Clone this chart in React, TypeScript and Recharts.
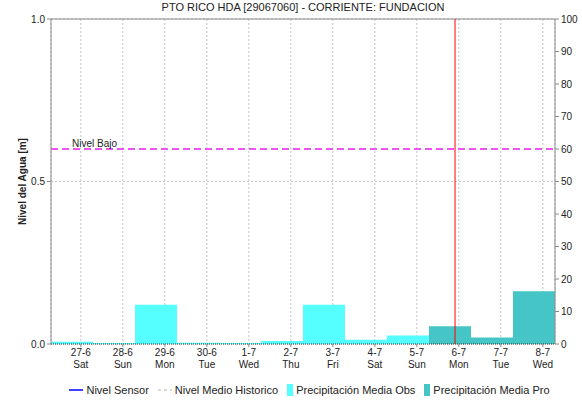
import {
  ComposedChart,
  Bar,
  XAxis,
  YAxis,
  CartesianGrid,
  ReferenceLine,
} from "recharts";

const TITLE = "PTO RICO HDA [29067060] - CORRIENTE: FUNDACION";

const dayLabels = ["27-6", "28-6", "29-6", "30-6", "1-7", "2-7", "3-7", "4-7", "5-7", "6-7", "7-7", "8-7"];
const weekdayLabels = ["Sat", "Sun", "Mon", "Tue", "Wed", "Thu", "Fri", "Sat", "Sun", "Mon", "Tue", "Wed"];

// precipitation (mm), observed then forecast
const precipObs = [0.7, 0.3, 12.1, 0.4, 0.3, 0.9, 12.1, 1.3, 2.6, null, null, null];
const precipPro = [null, null, null, null, null, null, null, null, null, 5.5, 2.0, 16.2];

const nivelTicks = [0, 0.5, 1];
const precipTicks = [0, 10, 20, 30, 40, 50, 60, 70, 80, 90, 100];

const NIVEL_BAJO = 0.6;
const TICK_HOUR = 0.71; // date ticks sit late in each day
const NOW = 9.62; // current time, in days from 27-6

const COLORS = {
  obs: "#55FFFF",
  pro: "#45C5C5",
  bajo: "#EE55EE",
  now: "#FF0000",
  grid: "#c4c4c4",
  axis: "#8a8a8a",
  text: "#222",
  sensor: "#0000FF",
  historico: "#cccccc",
};

const FONT = "'Liberation Sans', Arial, sans-serif";

const data = dayLabels.map((day, i) => ({
  day,
  t: i + TICK_HOUR,
  obs: precipObs[i],
  pro: precipPro[i],
}));

const timeTicks = data.map((d) => d.t);

function DayTick(props: any) {
  const { x, y, index } = props;
  return (
    <g transform={`translate(${x},${y})`}>
      <text textAnchor="middle" fontSize={10} fill={COLORS.text} fontFamily={FONT}>
        <tspan x={0} dy={7}>{dayLabels[index]}</tspan>
        <tspan x={0} dy={12}>{weekdayLabels[index]}</tspan>
      </text>
    </g>
  );
}

function BajoLabel(props: any) {
  const { viewBox } = props;
  return (
    <text x={viewBox.x + 21} y={viewBox.y - 2} fontSize={10} fill={COLORS.text} fontFamily={FONT}>
      Nivel Bajo
    </text>
  );
}

function LegendRow() {
  const item = { display: "flex", alignItems: "center", marginRight: 8 } as const;
  return (
    <div
      style={{
        position: "absolute",
        top: 384,
        left: 0,
        width: 582,
        display: "flex",
        justifyContent: "center",
        paddingLeft: 44,
        boxSizing: "border-box",
        fontFamily: FONT,
        fontSize: 11,
        color: COLORS.text,
      }}
    >
      <div style={item}>
        <svg width={16} height={12}><line x1={1} y1={6} x2={15} y2={6} stroke={COLORS.sensor} strokeWidth={1.5} /></svg>
        <span style={{ marginLeft: 2 }}>Nivel Sensor</span>
      </div>
      <div style={item}>
        <svg width={16} height={12}><line x1={1} y1={6} x2={15} y2={6} stroke={COLORS.historico} strokeWidth={1.5} strokeDasharray="3 3" /></svg>
        <span style={{ marginLeft: 2 }}>Nivel Medio Historico</span>
      </div>
      <div style={item}>
        <svg width={8} height={12}><rect x={1} y={0} width={6} height={12} fill={COLORS.obs} /></svg>
        <span style={{ marginLeft: 2 }}>Precipitación Media Obs</span>
      </div>
      <div style={item}>
        <svg width={8} height={12}><rect x={1} y={0} width={6} height={12} fill={COLORS.pro} /></svg>
        <span style={{ marginLeft: 2 }}>Precipitación Media Pro</span>
      </div>
    </div>
  );
}

export default function App() {
  return (
    <div style={{ position: "absolute", left: 0, top: 0, width: 582, height: 401, background: "#fff" }}>
      <div
        style={{
          position: "absolute",
          top: 1,
          left: 51,
          width: 504,
          textAlign: "center",
          fontFamily: FONT,
          fontSize: 11,
          color: COLORS.text,
        }}
      >
        {TITLE}
      </div>
      <ComposedChart
        width={582}
        height={401}
        data={data}
        margin={{ top: 19, right: 0, left: 11, bottom: 27 }}
        barCategoryGap={0}
        barGap={0}
      >
        <XAxis xAxisId="bars" dataKey="day" type="category" hide height={0} />
        <XAxis
          xAxisId="time"
          dataKey="t"
          type="number"
          domain={[0, dayLabels.length]}
          ticks={timeTicks}
          interval={0}
          height={30}
          tick={<DayTick />}
          tickLine={{ stroke: COLORS.axis }}
          tickSize={3}
          axisLine={{ stroke: "#333", strokeDasharray: "1 1" }}
          allowDataOverflow
        />
        <YAxis
          yAxisId="nivel"
          type="number"
          domain={[0, 1]}
          ticks={nivelTicks}
          allowDataOverflow
          width={40}
          tickFormatter={(v: number) => v.toFixed(1)}
          tick={{ fontSize: 10, fill: COLORS.text, fontFamily: FONT }}
          tickSize={4}
          tickMargin={2}
          axisLine={{ stroke: COLORS.axis }}
          tickLine={{ stroke: COLORS.axis }}
          label={{
            value: "Nivel del Agua [m]",
            angle: -90,
            position: "insideLeft",
            offset: 11,
            style: { textAnchor: "middle", fontSize: 10, fontWeight: "bold", fill: COLORS.text, fontFamily: FONT },
          }}
        />
        <YAxis
          yAxisId="precip"
          orientation="right"
          domain={[0, 100]}
          ticks={precipTicks}
          allowDataOverflow
          width={27}
          tick={{ fontSize: 10, fill: COLORS.text, fontFamily: FONT }}
          tickSize={4}
          tickMargin={2}
          axisLine={{ stroke: COLORS.axis }}
          tickLine={{ stroke: COLORS.axis }}
        />
        <CartesianGrid
          xAxisId="time"
          yAxisId="nivel"
          stroke={COLORS.grid}
          strokeDasharray="2 2"
        />
        <Bar
          xAxisId="bars"
          yAxisId="precip"
          dataKey="obs"
          stackId="p"
          fill={COLORS.obs}
          isAnimationActive={false}
        />
        <Bar
          xAxisId="bars"
          yAxisId="precip"
          dataKey="pro"
          stackId="p"
          fill={COLORS.pro}
          isAnimationActive={false}
        />
        <ReferenceLine xAxisId="time" yAxisId="nivel" y={1} stroke={COLORS.axis} />
        <ReferenceLine
          xAxisId="time"
          yAxisId="nivel"
          y={NIVEL_BAJO}
          stroke={COLORS.bajo}
          strokeWidth={2}
          strokeDasharray="7 4"
          label={<BajoLabel />}
        />
        <ReferenceLine xAxisId="time" yAxisId="nivel" x={NOW} stroke={COLORS.now} strokeWidth={1} />
      </ComposedChart>
      <LegendRow />
    </div>
  );
}
